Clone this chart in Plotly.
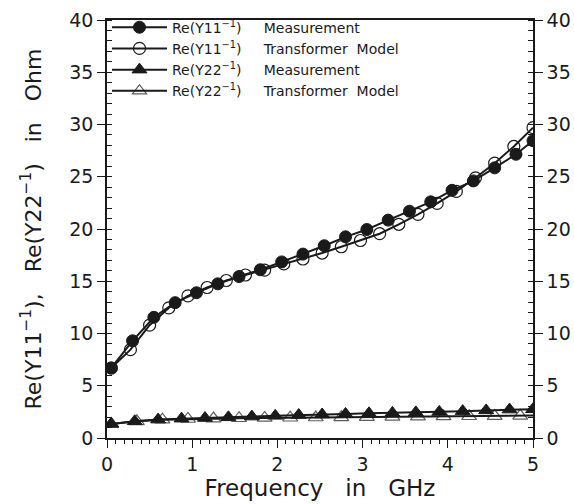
import plotly.graph_objects as go

# ---- data ----
x_y11_meas = [0.05, 0.30, 0.55, 0.80, 1.05, 1.30, 1.55, 1.80, 2.05, 2.30, 2.55,
              2.80, 3.05, 3.30, 3.55, 3.80, 4.05, 4.30, 4.55, 4.80, 5.00]
y_y11_meas = [6.7, 9.3, 11.55, 12.95, 13.9, 14.75, 15.45, 16.1, 16.85, 17.6, 18.4,
              19.25, 19.95, 20.85, 21.7, 22.6, 23.7, 24.6, 25.85, 27.15, 28.45]

x_y11_model = [0.05, 0.275, 0.5, 0.725, 0.95, 1.175, 1.4, 1.625, 1.85, 2.075, 2.3,
               2.525, 2.75, 2.975, 3.2, 3.425, 3.65, 3.875, 4.1, 4.325, 4.55, 4.775, 5.0]
y_y11_model = [6.7, 8.45, 10.8, 12.45, 13.6, 14.4, 15.07, 15.6, 16.06, 16.66, 17.13,
               17.7, 18.3, 18.9, 19.55, 20.45, 21.4, 22.45, 23.6, 24.9, 26.3, 27.9, 29.7]

x_y22_meas = [0.05, 0.325, 0.6, 0.875, 1.15, 1.425, 1.7, 1.975, 2.25, 2.525, 2.8,
              3.075, 3.35, 3.625, 3.9, 4.175, 4.45, 4.725, 5.0]
y_y22_meas = [1.35, 1.6, 1.76, 1.85, 1.91, 1.98, 2.05, 2.12, 2.2, 2.25, 2.3,
              2.36, 2.4, 2.45, 2.5, 2.57, 2.64, 2.72, 2.75]

x_y22_model = [0.05, 0.35, 0.65, 0.95, 1.25, 1.55, 1.85, 2.15, 2.45, 2.75, 3.05,
               3.35, 3.65, 3.95, 4.25, 4.55, 4.85, 5.0]
y_y22_model = [1.35, 1.6, 1.75, 1.82, 1.86, 1.89, 1.92, 1.94, 1.96, 1.98, 2.0,
               2.02, 2.04, 2.06, 2.08, 2.1, 2.12, 2.15]
marker_shown_y22_model = [True] * 17 + [False]

x_tick_vals = [0, 1, 2, 3, 4, 5]
y_tick_vals = [0, 5, 10, 15, 20, 25, 30, 35, 40]

NB = "\u00a0"
legend_names = [
    "Re(Y11<sup>−1</sup>)" + NB * 5 + "Measurement",
    "Re(Y11<sup>−1</sup>)" + NB * 5 + "Transformer" + NB * 2 + "Model",
    "Re(Y22<sup>−1</sup>)" + NB * 5 + "Measurement",
    "Re(Y22<sup>−1</sup>)" + NB * 5 + "Transformer" + NB * 2 + "Model",
]
x_title = "Frequency" + NB * 3 + "in" + NB * 3 + "GHz"
y_title = (NB * 4 + "Re(Y11<sup>−1</sup>)," + NB * 3 + "Re(Y22<sup>−1</sup>)" + NB * 3 +
           "in" + NB * 3 + "Ohm")

FONT = "DejaVu Sans"
INK = "#1a1a1a"
MS = 12

fig = go.Figure()
fig.add_trace(go.Scatter(
    x=x_y11_meas, y=y_y11_meas, name=legend_names[0], mode="lines+markers",
    line=dict(color=INK, width=2),
    marker=dict(symbol="circle", size=MS, color=INK, line=dict(color=INK, width=1))))
fig.add_trace(go.Scatter(
    x=x_y11_model, y=y_y11_model, name=legend_names[1], mode="lines+markers",
    line=dict(color=INK, width=2),
    marker=dict(symbol="circle-open", size=MS, color=INK, line=dict(color=INK, width=1.2))))
fig.add_trace(go.Scatter(
    x=x_y22_meas, y=y_y22_meas, name=legend_names[2], mode="lines+markers",
    line=dict(color=INK, width=2),
    marker=dict(symbol="triangle-up", size=MS + 1, color=INK, line=dict(color=INK, width=1))))
fig.add_trace(go.Scatter(
    x=x_y22_model, y=y_y22_model, name=legend_names[3], mode="lines+markers",
    line=dict(color=INK, width=2),
    marker=dict(symbol="triangle-up-open", color=INK,
                size=[MS + 1 if s else 0 for s in marker_shown_y22_model],
                line=dict(color=INK, width=1.2))))
# invisible trace to carry the right-hand axis
fig.add_trace(go.Scatter(x=[None], y=[None], yaxis="y2", showlegend=False,
                         hoverinfo="skip"))

yaxis_common = dict(
    range=[0, 40], tickvals=y_tick_vals, automargin=False,
    showgrid=False, zeroline=False, showline=True, linecolor=INK, linewidth=1.5,
    ticks="outside", ticklen=8, tickwidth=1.3, tickcolor=INK,
    minor=dict(dtick=1, ticks="inside", ticklen=5, tickwidth=1.1, tickcolor=INK, showgrid=False),
    tickfont=dict(family=FONT, size=19, color=INK),
)

fig.update_layout(
    width=574, height=504,
    margin=dict(l=107, r=41, t=13, b=66),
    paper_bgcolor="white", plot_bgcolor="white",
    showlegend=True,
    legend=dict(x=0.0, y=1.02, xanchor="left", yanchor="top",
                bgcolor="rgba(0,0,0,0)", font=dict(family=FONT, size=14, color=INK),
                tracegroupgap=0, itemwidth=55),
    xaxis=dict(
        range=[0, 5], tickvals=x_tick_vals, automargin=False,
        showgrid=False, zeroline=False, showline=True, mirror=True,
        linecolor=INK, linewidth=1.5,
        ticks="outside", ticklen=8, tickwidth=1.3, tickcolor=INK,
        minor=dict(dtick=0.1, ticks="outside", ticklen=4, tickwidth=1.1, tickcolor=INK, showgrid=False),
        tickfont=dict(family=FONT, size=19, color=INK),
        title=dict(text=x_title, font=dict(family=FONT, size=23, color=INK), standoff=4),
    ),
    yaxis=dict(
        **yaxis_common,
        title=dict(text=y_title, font=dict(family=FONT, size=22, color=INK), standoff=22),
    ),
    yaxis2=dict(**yaxis_common, overlaying="y", side="right", anchor="x"),
)

fig.write_html("out.html")
